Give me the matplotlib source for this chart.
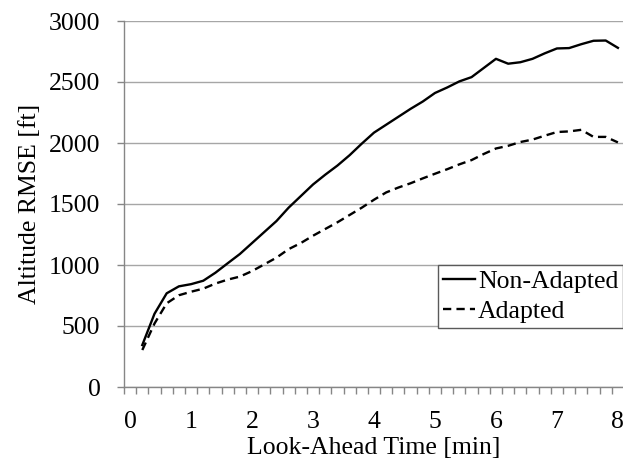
import numpy as np
import matplotlib
matplotlib.use("Agg")
import matplotlib.pyplot as plt
from matplotlib.ticker import FixedLocator

# look-ahead times (min), one sample every 0.2 min
look_ahead = [0.2, 0.4, 0.6, 0.8, 1.0, 1.2, 1.4, 1.6, 1.8, 2.0,
              2.2, 2.4, 2.6, 2.8, 3.0, 3.2, 3.4, 3.6, 3.8, 4.0,
              4.2, 4.4, 4.6, 4.8, 5.0, 5.2, 5.4, 5.6, 5.8, 6.0,
              6.2, 6.4, 6.6, 6.8, 7.0, 7.2, 7.4, 7.6, 7.8, 8.0]

# altitude RMSE (ft)
rmse_non_adapted = [344, 600, 768, 825, 843, 871, 937, 1014, 1090, 1180,
                    1270, 1360, 1470, 1565, 1660, 1740, 1815, 1900, 1995, 2085,
                    2150, 2215, 2280, 2340, 2410, 2455, 2505, 2540, 2615, 2690,
                    2650, 2662, 2690, 2735, 2775, 2778, 2810, 2838, 2840, 2780]
rmse_adapted = [303, 520, 686, 752, 781, 806, 848, 880, 905, 950,
                1005, 1060, 1130, 1180, 1240, 1295, 1350, 1410, 1470, 1535,
                1595, 1635, 1670, 1710, 1748, 1785, 1825, 1860, 1910, 1955,
                1977, 2008, 2028, 2060, 2090, 2095, 2108, 2050, 2050, 2005]

x_labels = ["0", "1", "2", "3", "4", "5", "6", "7", "8"]
y_ticks = [0, 500, 1000, 1500, 2000, 2500, 3000]

plt.rcParams["font.family"] = ["Liberation Serif", "DejaVu Serif"]
plt.rcParams["font.size"] = 18.5

W, H = 623, 463
fig = plt.figure(figsize=(W / 100, H / 100), dpi=100)
ax = fig.add_axes([124 / W, 76 / H, 500 / W, 366 / H])

gray = "#868686"
ax.plot(look_ahead, rmse_non_adapted, color="black", lw=1.7, label="Non-Adapted")
ax.plot(look_ahead, rmse_adapted, color="black", lw=1.7, dashes=(3.5, 2.2), label="Adapted")

ax.set_xlim(-0.1, 8.1)
ax.set_ylim(0, 3000)
ax.set_yticks(y_ticks)
ax.set_xticks(range(len(x_labels)))
ax.set_xticklabels(x_labels)
ax.xaxis.set_minor_locator(FixedLocator(np.arange(-0.1, 8.15, 0.2)))
ax.tick_params(axis="x", which="major", length=0, pad=17)
ax.tick_params(axis="x", which="minor", length=5, color=gray, width=1)
ax.tick_params(axis="y", length=5, color=gray, width=1, pad=12)

ax.grid(axis="y", color="#a6a6a6", lw=1)
ax.set_axisbelow(True)
for s in ["top", "right"]:
    ax.spines[s].set_visible(False)
for s in ["left", "bottom"]:
    ax.spines[s].set_color(gray)
    ax.spines[s].set_linewidth(1)

ax.set_xlabel("Look-Ahead Time [min]", labelpad=3)
ax.set_ylabel("Altitude RMSE [ft]", labelpad=6)

leg = ax.legend(loc="upper left", bbox_to_anchor=(438 / W, 1 - 265 / H),
                bbox_transform=fig.transFigure, fancybox=False,
                handlelength=1.25, handletextpad=0.1, borderpad=0.2,
                labelspacing=0.28, borderaxespad=0, framealpha=1)
leg.get_frame().set_edgecolor("#5a5a5a")
leg.get_frame().set_linewidth(1)

fig.savefig("out.png", dpi=100)
